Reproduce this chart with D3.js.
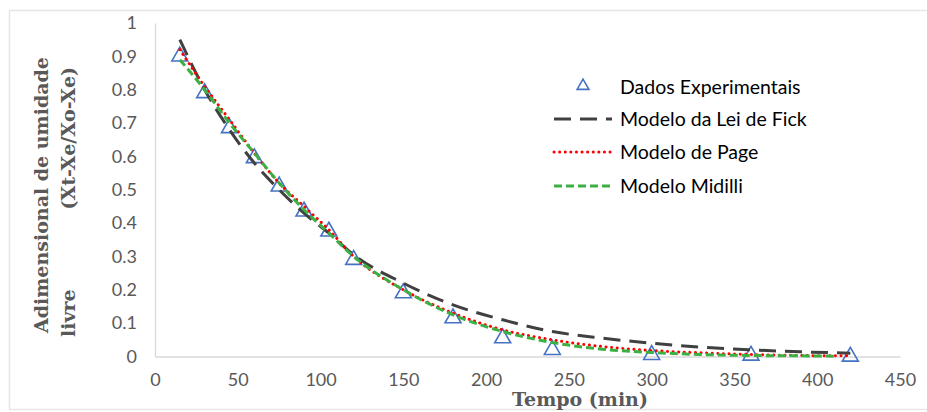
<!DOCTYPE html>
<html>
<head>
<meta charset="utf-8">
<script src="https://cdn.jsdelivr.net/npm/d3@7"></script>
<style>
  body { margin: 0; background: #fff; }
  svg { display: block; }
</style>
</head>
<body>
<script>
'use strict';

// experimental points
const dataTime = [15, 30, 45, 60, 75, 90, 105, 120, 150, 180, 210, 240, 300, 360, 420];
const dataValue = [0.9, 0.79, 0.685, 0.595, 0.51, 0.435, 0.375, 0.29, 0.19, 0.115, 0.055, 0.02, 0.005, 0.003, 0.0];

// model curves
const modelTime = [15, 30, 45, 60, 75, 90, 105, 120, 150, 180, 210, 240, 270, 300, 330, 360, 390, 420];
const fickValue = [0.95, 0.8, 0.68, 0.58, 0.5, 0.43, 0.37, 0.305, 0.22, 0.155, 0.11, 0.075, 0.055, 0.04, 0.028, 0.02, 0.014, 0.01];
const pageValue = [0.92, 0.81, 0.71, 0.61, 0.52, 0.45, 0.38, 0.3, 0.2, 0.13, 0.08, 0.05, 0.03, 0.018, 0.011, 0.006, 0.003, 0.002];
const midilliTime = [15, 30, 45, 60, 75, 90, 105, 120, 150, 180, 210, 240, 270, 300, 330, 360, 390, 410];
const midilliValue = [0.89, 0.8, 0.7, 0.61, 0.52, 0.44, 0.37, 0.3, 0.2, 0.125, 0.075, 0.042, 0.022, 0.012, 0.006, 0.003, 0.002, 0.001];

const xTicks = [0, 50, 100, 150, 200, 250, 300, 350, 400, 450];
const yTicks = [0, 0.1, 0.2, 0.3, 0.4, 0.5, 0.6, 0.7, 0.8, 0.9, 1];

const legendNames = ["Dados Experimentais", "Modelo da Lei de Fick", "Modelo de Page", "Modelo Midilli"];

const W = 927, H = 412;
const axisGrey = "#d9d9d9";
const textGrey = "#595959";
const tickFont = "Lato, 'Open Sans', sans-serif";
const serifFont = "'DejaVu Serif', serif";

const svg = d3.select("body").append("svg")
  .attr("width", W)
  .attr("height", H);

// outer chart border
svg.append("rect")
  .attr("x", 9.5).attr("y", 10.5)
  .attr("width", 930).attr("height", 399)
  .attr("fill", "#fff")
  .attr("stroke", "#e6e6e6")
  .attr("stroke-width", 1.5);

const x = d3.scaleLinear().domain([0, 450]).range([155, 900]);
const y = d3.scaleLinear().domain([0, 1]).range([356.5, 23]);

// x axis
const xAxis = d3.axisBottom(x).tickValues(xTicks).tickSize(0).tickPadding(17).tickFormat(d3.format("d"));
const gx = svg.append("g")
  .attr("transform", "translate(0," + y(0) + ")")
  .call(xAxis);
gx.select(".domain").attr("stroke", axisGrey).attr("stroke-width", 1.3);
gx.selectAll("text")
  .attr("fill", textGrey)
  .style("font-family", tickFont)
  .style("font-size", "18px");

// y axis
const yAxis = d3.axisLeft(y).tickValues(yTicks).tickSize(0).tickPadding(18)
  .tickFormat((d) => String(+d.toFixed(1)));
const gy = svg.append("g")
  .attr("transform", "translate(" + x(0) + ",0)")
  .call(yAxis);
gy.select(".domain").attr("stroke", axisGrey).attr("stroke-width", 1.3);
gy.selectAll("text")
  .attr("fill", textGrey)
  .style("font-family", tickFont)
  .style("font-size", "18px");

// experimental points
const tri = d3.symbol().type(d3.symbolTriangle).size(110);
svg.append("g").selectAll("path")
  .data(dataTime.map((t, i) => [t, dataValue[i]]))
  .enter()
  .append("path")
  .attr("d", tri)
  .attr("transform", (d) => "translate(" + x(d[0]) + "," + y(d[1]) + ")")
  .attr("fill", "none")
  .attr("stroke", "#4472c4")
  .attr("stroke-width", 1.6);

// model lines
const line = d3.line()
  .x((d) => x(d[0]))
  .y((d) => y(d[1]))
  .curve(d3.curveMonotoneX);

const models = [
  { t: modelTime, v: fickValue, color: "#404040", dash: "17,9", cap: "butt", width: 3 },
  { t: modelTime, v: pageValue, color: "#ff0000", dash: "0.1,5.5", cap: "round", width: 3 },
  { t: midilliTime, v: midilliValue, color: "#3cb043", dash: "8,4", cap: "butt", width: 3 }
];

models.forEach((m) => {
  svg.append("path")
    .datum(m.t.map((t, i) => [t, m.v[i]]))
    .attr("d", line)
    .attr("fill", "none")
    .attr("stroke", m.color)
    .attr("stroke-width", m.width)
    .attr("stroke-dasharray", m.dash)
    .attr("stroke-linecap", m.cap);
});

// legend
const legend = svg.append("g");
const legendY = [87, 119, 152, 186];
legend.append("path")
  .attr("d", d3.symbol().type(d3.symbolTriangle).size(60))
  .attr("transform", "translate(583," + (legendY[0] - 1) + ")")
  .attr("fill", "none")
  .attr("stroke", "#4472c4")
  .attr("stroke-width", 1.6);
models.forEach((m, i) => {
  legend.append("line")
    .attr("x1", 554).attr("x2", 612)
    .attr("y1", legendY[i + 1]).attr("y2", legendY[i + 1])
    .attr("stroke", m.color)
    .attr("stroke-width", m.width)
    .attr("stroke-dasharray", m.dash)
    .attr("stroke-linecap", m.cap);
});
legend.selectAll("text")
  .data(legendNames)
  .enter()
  .append("text")
  .attr("x", 620)
  .attr("y", (d, i) => legendY[i])
  .attr("dy", "0.35em")
  .attr("fill", "#000")
  .style("font-family", tickFont)
  .style("font-size", "19.5px")
  .text((d) => d);

// axis titles
svg.append("text")
  .attr("x", 580)
  .attr("y", 406)
  .attr("text-anchor", "middle")
  .attr("fill", textGrey)
  .style("font-family", serifFont)
  .style("font-weight", "bold")
  .style("font-size", "19px")
  .text("Tempo (min)");

svg.append("text")
  .attr("transform", "translate(48,333)rotate(-90)")
  .attr("text-anchor", "start")
  .attr("fill", textGrey)
  .style("font-family", serifFont)
  .style("font-weight", "bold")
  .style("font-size", "19px")
  .text("Adimensional de umidade");

svg.append("text")
  .attr("transform", "translate(75,337)rotate(-90)")
  .attr("text-anchor", "start")
  .attr("fill", textGrey)
  .style("font-family", serifFont)
  .style("font-weight", "bold")
  .style("font-size", "19px")
  .text("livre");

svg.append("text")
  .attr("transform", "translate(75,67)rotate(-90)")
  .attr("text-anchor", "end")
  .attr("fill", textGrey)
  .style("font-family", serifFont)
  .style("font-weight", "bold")
  .style("font-size", "19px")
  .text("(Xt-Xe/Xo-Xe)");
</script>
</body>
</html>
